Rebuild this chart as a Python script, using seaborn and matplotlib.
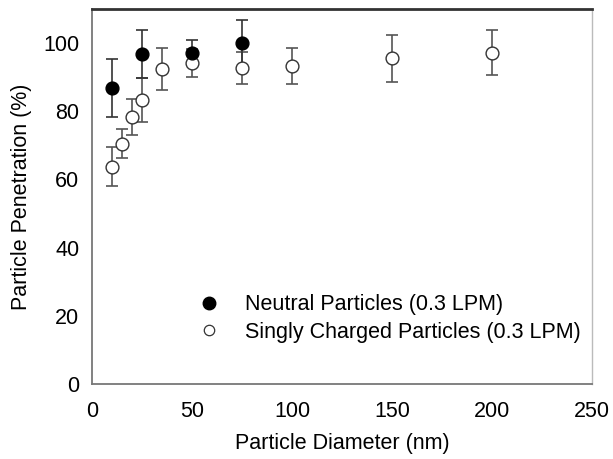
import matplotlib
matplotlib.use("Agg")
import matplotlib.pyplot as plt
from matplotlib.lines import Line2D
import seaborn as sns
import pandas as pd

# Data
neutral_d = [10, 25, 50, 75]
neutral_p = [86.8, 96.8, 97.2, 99.9]
neutral_err = [8.4, 7.1, 3.7, 6.8]

charged_d = [10, 15, 20, 25, 35, 50, 75, 100, 150, 200]
charged_p = [63.7, 70.5, 78.2, 83.3, 92.4, 94.2, 92.7, 93.3, 95.5, 97.2]
charged_err = [5.7, 4.3, 5.3, 6.5, 6.2, 4.2, 4.7, 5.4, 6.9, 6.7]

x_ticks = [0, 50, 100, 150, 200, 250]
y_ticks = [0, 20, 40, 60, 80, 100]
labels = ["Neutral Particles (0.3 LPM)", "Singly Charged Particles (0.3 LPM)"]

sns.set_style("white")
plt.rcParams['font.family'] = ['Liberation Sans', 'DejaVu Sans']
plt.rcParams['text.color'] = 'black'
plt.rcParams['axes.labelcolor'] = 'black'

neutral = pd.DataFrame({"d": neutral_d, "p": neutral_p, "e": neutral_err})
charged = pd.DataFrame({"d": charged_d, "p": charged_p, "e": charged_err})

fig = plt.figure(figsize=(6.13, 4.59), dpi=100)
ax = fig.add_axes([92/613, 75/459, 500/613, 375/459])

FS = 15.5
ax.errorbar(charged["d"], charged["p"], yerr=charged["e"], fmt="none",
            ecolor="#555555", elinewidth=1.2, capsize=4, capthick=1.2, zorder=2)
ax.errorbar(neutral["d"], neutral["p"], yerr=neutral["e"], fmt="none",
            ecolor="#333333", elinewidth=1.2, capsize=4, capthick=1.2, zorder=2)

sns.scatterplot(data=charged, x="d", y="p", ax=ax, marker="o", s=85,
                facecolor="white", edgecolor="#333333", linewidth=1.0, zorder=3)
sns.scatterplot(data=neutral, x="d", y="p", ax=ax, marker="o", s=85,
                color="black", edgecolor="black", linewidth=1.0, zorder=4)

ax.set_xlim(0, 250)
ax.set_ylim(0, 110)
ax.set_xticks(x_ticks)
ax.set_yticks(y_ticks)
ax.set_xlabel("Particle Diameter (nm)", fontsize=FS, labelpad=8, color="black")
ax.set_ylabel("Particle Penetration (%)", fontsize=FS, labelpad=8, color="black")
ax.tick_params(axis="both", direction="in", length=4, width=1, color="#666666",
               labelsize=FS, labelcolor="black")
ax.tick_params(axis="x", pad=12.5)
ax.tick_params(axis="y", pad=9)

for side in ["left", "bottom"]:
    ax.spines[side].set_color("#777777")
    ax.spines[side].set_linewidth(1.3)
ax.spines["top"].set_color("#333333")
ax.spines["top"].set_linewidth(2.0)
ax.spines["right"].set_color("#bbbbbb")
ax.spines["right"].set_linewidth(1.0)
for s in ax.spines.values():
    s.set_visible(True)

handles = [
    Line2D([], [], marker="o", linestyle="none", markersize=9,
           markerfacecolor="black", markeredgecolor="black"),
    Line2D([], [], marker="o", linestyle="none", markersize=7.5,
           markerfacecolor="white", markeredgecolor="#333333", markeredgewidth=0.9),
]
leg = ax.legend(handles, labels, frameon=False, fontsize=FS, loc="center left",
                bbox_to_anchor=(0.195, 0.175), handletextpad=1.2, labelspacing=0.3,
                handlelength=1.0, borderaxespad=0)
for t in leg.get_texts():
    t.set_color("black")

fig.savefig("out.png", dpi=100)
